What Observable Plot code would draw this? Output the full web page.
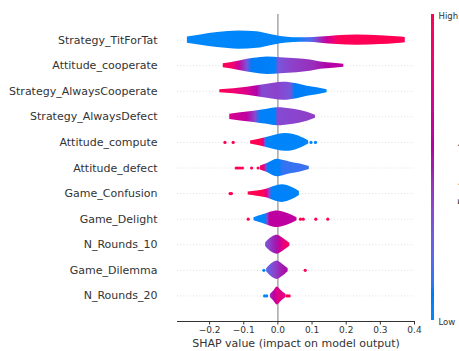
<!DOCTYPE html>
<html>
<head>
<meta charset="utf-8">
<script src="https://cdn.jsdelivr.net/npm/d3@7"></script>
<script src="https://cdn.jsdelivr.net/npm/@observablehq/plot@0.6"></script>
<style>
  body { margin: 0; background: #fff; }
  #chart { position: relative; width: 459px; height: 351px; overflow: hidden; font-family: "DejaVu Sans", sans-serif; }
  #bar { position: absolute; left: 431px; top: 0; width: 40px; height: 351px; }
  #bar svg { max-width: none; }
</style>
</head>
<body>
<div id="chart"><div id="bar"></div></div>
<script>
// Features, ordered by importance (top row first)
const features = [
  "Strategy_TitForTat", "Attitude_cooperate", "Strategy_AlwaysCooperate", "Strategy_AlwaysDefect",
  "Attitude_compute", "Attitude_defect", "Game_Confusion", "Game_Delight",
  "N_Rounds_10", "Game_Dilemma", "N_Rounds_20"
];

// Violin outline: SHAP values and relative density at each of them
const violinShap = [
  [-0.265, -0.226, -0.177, -0.114, -0.061, -0.022, 0.008, 0.046, 0.086, 0.125, 0.173, 0.232, 0.300, 0.349, 0.373],
  [-0.160, -0.139, -0.109, -0.070, -0.031, 0.008, 0.056, 0.095, 0.125, 0.163, 0.193],
  [-0.170, -0.129, -0.090, -0.041, 0.017, 0.056, 0.086, 0.115, 0.144],
  [-0.141, -0.109, -0.070, -0.031, -0.002, 0.046, 0.086, 0.110],
  [-0.080, -0.051, -0.022, 0.022, 0.046, 0.076, 0.090],
  [-0.051, -0.031, -0.002, 0.018, 0.037, 0.066, 0.092],
  [-0.087, -0.061, -0.031, -0.012, 0.013, 0.042, 0.063],
  [-0.070, -0.046, -0.022, -0.002, 0.027, 0.056],
  [-0.036, -0.027, -0.015, -0.002, 0.013, 0.025, 0.035],
  [-0.033, -0.025, -0.012, -0.002, 0.010, 0.021, 0.030],
  [-0.022, -0.012, -0.002, 0.008, 0.016, 0.024]
];
const violinDensity = [
  [0.33, 0.55, 0.80, 0.97, 0.88, 0.60, 0.38, 0.25, 0.24, 0.33, 0.47, 0.55, 0.47, 0.35, 0.27],
  [0.21, 0.32, 0.53, 0.78, 0.93, 0.85, 0.74, 0.59, 0.39, 0.27, 0.16],
  [0.16, 0.27, 0.43, 0.69, 0.96, 0.80, 0.53, 0.37, 0.16],
  [0.27, 0.43, 0.59, 0.80, 0.96, 0.80, 0.48, 0.16],
  [0.16, 0.37, 0.64, 0.94, 0.85, 0.43, 0.16],
  [0.21, 0.48, 0.94, 0.80, 0.62, 0.43, 0.16],
  [0.16, 0.27, 0.48, 0.74, 0.94, 0.64, 0.21],
  [0.16, 0.43, 0.74, 0.88, 0.64, 0.16],
  [0.19, 0.53, 0.85, 1.00, 0.74, 0.43, 0.16],
  [0.16, 0.48, 0.85, 0.98, 0.74, 0.43, 0.16],
  [0.16, 0.53, 0.96, 0.64, 0.37, 0.16]
];

// Mean feature value (0 = low, 1 = high) along each violin
const colorShap = [
  [-0.265, 0.055, 0.100, 0.125, 0.145, 0.165, 0.180, 0.373],
  [-0.160, -0.129, -0.114, -0.090, -0.075, -0.007, 0.003, 0.037, 0.105, 0.144, 0.193],
  [-0.170, -0.124, -0.090, -0.061, -0.046, -0.002, 0.037, 0.051, 0.144],
  [-0.141, -0.090, -0.065, -0.051, -0.007, 0.000, 0.110],
  [-0.080, -0.048, -0.042, -0.037, -0.032, 0.090],
  [-0.051, -0.040, -0.034, -0.029, 0.005, 0.015, 0.092],
  [-0.087, -0.043, -0.032, -0.024, -0.017, 0.063],
  [-0.070, -0.036, -0.030, -0.024, 0.046, 0.056],
  [-0.036, -0.025, -0.005, 0.008, 0.020, 0.035],
  [-0.033, -0.018, -0.002, 0.015, 0.030],
  [-0.022, -0.010, 0.000, 0.024]
];
const colorValue = [
  [0, 0.03, 0.2, 0.45, 0.65, 0.85, 0.98, 1],
  [1, 0.85, 0.65, 0.3, 0.08, 0.05, 0.3, 0.38, 0.45, 0.55, 0.6],
  [1, 0.85, 0.72, 0.55, 0.35, 0.38, 0.3, 0.08, 0.02],
  [0.72, 0.6, 0.35, 0.05, 0.05, 0.35, 0.4],
  [1, 1, 0.7, 0.3, 0.03, 0.02],
  [0.9, 0.8, 0.35, 0.06, 0.05, 0.13, 0.15],
  [1, 1, 0.75, 0.35, 0.04, 0.03],
  [0.02, 0.02, 0.35, 0.6, 0.6, 0.65],
  [0.3, 0.38, 0.5, 0.65, 0.85, 0.9],
  [0.22, 0.3, 0.42, 0.5, 0.55],
  [0.45, 0.6, 0.75, 0.78]
];

// Individual outlying samples drawn as dots
const outlierFeature = [4, 4, 4, 4, 5, 5, 5, 5, 5, 5, 6, 6, 7, 7, 7, 7, 7, 9, 9, 10, 10, 10, 10];
const outlierShap = [-0.155, -0.131, 0.097, 0.110, -0.122, -0.117, -0.111, -0.104, -0.077, -0.058,
  -0.140, -0.136, -0.087, 0.066, 0.074, 0.111, 0.146, -0.041, 0.080, -0.039, -0.033, 0.027, 0.033];
const outlierValue = [1, 1, 0, 0, 1, 1, 1, 1, 1, 1, 1, 1, 1, 1, 1, 1, 1, 0, 1, 0, 0, 1, 1];

const xTicks = [-0.2, -0.1, 0, 0.1, 0.2, 0.3, 0.4];
const xLabel = "SHAP value (impact on model output)";

// Blue→red colormap interpolated in LCh with a darker purple middle
function shapRedBlue(t) {
  const l = t < 0.5 ? 54 - 28 * t : 40 + 28 * (t - 0.5);
  const c = 70 + 20 * t;
  const h = 266.93 + 113.39 * t;
  return d3.hcl(h, c, l).formatHex();
}

const rows = features.map((f, i) => i);
const HALF = 0.368; // half-width of the widest violin, in row units

const violins = features.map((f, i) => Plot.areaY(
  violinShap[i].map((s, k) => ({shap: s, density: violinDensity[i][k]})),
  {
    x: "shap",
    y1: d => i - d.density * HALF,
    y2: d => i + d.density * HALF,
    curve: "monotone-x",
    fill: `url(#violin-${i})`
  }
));

const outliers = outlierShap.map((s, k) => ({shap: s, row: outlierFeature[k], value: outlierValue[k]}));

const plot = Plot.plot({
  width: 459,
  height: 351,
  marginLeft: 177,
  marginRight: 45,
  marginTop: 14,
  marginBottom: 30,
  style: {fontFamily: "DejaVu Sans", background: "transparent", color: "#333"},
  x: {domain: [-0.294, 0.400]},
  y: {domain: [11, -1]},
  color: {type: "linear", domain: [0, 1], interpolate: shapRedBlue},
  marks: [
    Plot.ruleY(rows, {y: d => d, stroke: "#cccccc", strokeWidth: 0.8, strokeDasharray: "0.8,2.4"}),
    Plot.ruleX([0], {stroke: "#999999", strokeWidth: 1.3}),
    ...violins,
    Plot.dot(outliers, {x: "shap", y: "row", fill: "value", r: 1.6}),
    Plot.ruleY([11], {stroke: "#333333", strokeWidth: 1}),
    Plot.axisX({ticks: xTicks, tickFormat: d3.format(".1f"), tickSize: 3.5, tickPadding: 2,
      fontSize: 9, stroke: "#333333", fill: "#333333", label: null}),
    Plot.text([xLabel], {frameAnchor: "bottom", dy: 22, lineAnchor: "middle", fontSize: 11, fill: "#333333"}),
    Plot.axisY({ticks: rows, tickFormat: i => features[i], tickSize: 0, tickPadding: 20,
      fontSize: 11, fill: "#333333", label: null})
  ]
});

// Horizontal gradients that colour each violin by its mean feature value
const xs = plot.scale("x");
const cs = plot.scale("color");
const defs = d3.select(plot).append("defs");
features.forEach((f, i) => {
  const a = xs.apply(colorShap[i][0]);
  const b = xs.apply(colorShap[i][colorShap[i].length - 1]);
  const g = defs.append("linearGradient")
    .attr("id", `violin-${i}`)
    .attr("gradientUnits", "userSpaceOnUse")
    .attr("x1", a).attr("x2", b).attr("y1", 0).attr("y2", 0);
  colorShap[i].forEach((s, k) => {
    g.append("stop")
      .attr("offset", (xs.apply(s) - a) / (b - a))
      .attr("stop-color", cs.apply(colorValue[i][k]));
  });
});

document.getElementById("chart").prepend(plot);

// Colour bar for the feature value
const ramp = d3.range(0, 1, 0.005);
const bar = Plot.plot({
  width: 40,
  height: 351,
  marginTop: 14,
  marginBottom: 31,
  marginLeft: 0,
  marginRight: 37,
  style: {fontFamily: "DejaVu Sans", background: "transparent", overflow: "visible", maxWidth: "none"},
  x: {domain: [0, 1], axis: null},
  y: {domain: [0, 1], axis: null},
  color: {type: "linear", domain: [0, 1], interpolate: shapRedBlue},
  marks: [
    Plot.rect(ramp, {x1: 0, x2: 1, y1: d => d, y2: d => Math.min(1, d + 0.007), fill: d => d}),
    Plot.text(["High"], {x: 1, y: 1, dx: 4, dy: 2, textAnchor: "start", fontSize: 8.5, fill: "#333333"}),
    Plot.text(["Low"], {x: 1, y: 0, dx: 4, dy: 1.5, textAnchor: "start", fontSize: 8.5, fill: "#333333"}),
    Plot.text(["Feature value"], {x: 1, y: 0.5, dx: 24, rotate: -90, lineAnchor: "top", fontSize: 11, fill: "#333333"})
  ]
});
document.getElementById("bar").append(bar);
</script>
</body>
</html>
